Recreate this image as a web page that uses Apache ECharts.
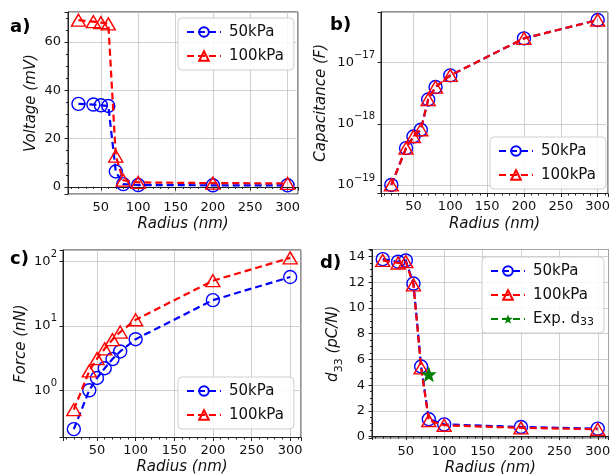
<!DOCTYPE html>
<html>
<head>
<meta charset="utf-8">
<script src="https://cdn.jsdelivr.net/npm/echarts@6/dist/echarts.min.js"></script>
<style>
html,body{margin:0;padding:0;background:#fff;}
#chart{width:614px;height:474px;}
</style>
</head>
<body>
<div id="chart"></div>
<script>
// ---- data ----
const radius = [20, 40, 50, 60, 70, 80, 100, 200, 300];
const voltage50 = [34.4, 34.1, 33.8, 33.5, 6.4, 1.2, 0.8, 0.7, 0.7];
const voltage100 = [69.0, 68.4, 68.0, 67.5, 12.8, 2.8, 1.9, 1.6, 1.5];
const capacitance50 = [1.0e-19, 4.0e-19, 6.2e-19, 8.0e-19, 2.5e-18, 4.0e-18, 6.2e-18, 2.5e-17, 5.0e-17];
const capacitance100 = [1.0e-19, 4.0e-19, 6.2e-19, 8.0e-19, 2.5e-18, 4.0e-18, 6.2e-18, 2.5e-17, 5.0e-17];
const force50 = [0.25, 1.0, 1.55, 2.2, 3.05, 4.0, 6.2, 25, 57];
const force100 = [0.5, 2.0, 3.1, 4.4, 6.1, 8.0, 12.4, 50, 113];
const d33_50 = [13.8, 13.6, 13.7, 11.9, 5.45, 1.35, 0.95, 0.75, 0.62];
const d33_100 = [13.7, 13.5, 13.6, 11.8, 5.35, 1.25, 0.88, 0.68, 0.57];
const expRadius = [80];
const expD33 = [4.85];
const seriesNames = ['50kPa', '100kPa', 'Exp. d33'];
const panelLabels = ['a)', 'b)', 'c)', 'd)'];
const yTitles = ['Voltage (mV)', 'Capacitance (F)', 'Force (nN)', 'd{sub|33} (pC/N)'];
const xTitle = 'Radius (nm)';
// capacitance is plotted in units of 1e-19 F (log axis precision); labels show true exponent
const CAP_EXP = -19;
const CAP_UNIT = Math.pow(10, CAP_EXP);

// ---- styling ----
const FONT = 'DejaVu Sans';
const BLUE = '#0000ff', RED = '#ff0000', GREEN = '#008000';
const AXIS_C = '#222';
const GRID_C = '#c4c4c4';
const MINUS = '\u2212';

const grids = [
  {left: 68, top: 12, width: 230, height: 182},
  {left: 381, top: 12, width: 227, height: 181.5},
  {left: 63, top: 250, width: 238, height: 187.5},
  {left: 372, top: 249.5, width: 236.5, height: 188.5}
].map(g => Object.assign({show: true, borderColor: AXIS_C, borderWidth: 1, containLabel: false, outerBoundsMode: 'none'}, g));

function supLabel(v, offset) {
  const l = Math.log10(v);
  const e = Math.round(l);
  if (Math.abs(l - e) > 1e-6) return '';
  const ex = e + offset;
  return '10{s|' + (ex < 0 ? MINUS + (-ex) : ex) + '}';
}

const xNameGap = [21, 21.5, 20.5, 20.5];
const xAxes = grids.map((g, i) => ({
  type: 'value', gridIndex: i, min: 6, max: 314, splitNumber: 6,
  name: xTitle, nameLocation: 'middle', nameGap: xNameGap[i],
  nameTextStyle: {fontFamily: FONT, fontSize: 15, fontStyle: 'italic', color: '#111', lineHeight: 18},
  axisLine: {show: true, lineStyle: {color: AXIS_C, width: 1}},
  axisTick: {show: true, length: 3.5, lineStyle: {color: AXIS_C, width: 1}},
  minorTick: {show: true, splitNumber: 5, length: 2, lineStyle: {color: AXIS_C, width: 1}},
  splitLine: {show: true, lineStyle: {color: GRID_C, width: 0.8}},
  axisLabel: {fontFamily: FONT, fontSize: 13, color: '#111', margin: 7,
    formatter: v => (Math.abs(v % 50) < 1e-9 ? String(v) : '')}
}));

const commonY = {
  nameLocation: 'middle',
  axisLine: {show: true, lineStyle: {color: AXIS_C, width: 1}},
  axisTick: {show: true, length: 3.5, lineStyle: {color: AXIS_C, width: 1}},
  splitLine: {show: true, lineStyle: {color: GRID_C, width: 0.8}}
};
const nameStyle = {fontFamily: FONT, fontSize: 15, fontStyle: 'italic', color: '#111', lineHeight: 18};
const supRich = {s: {fontFamily: FONT, fontSize: 10, lineHeight: 12, verticalAlign: 'top', color: '#111'}};

const yAxes = [
  Object.assign({}, commonY, {
    type: 'value', gridIndex: 0, min: -2.9, max: 72.4, splitNumber: 4,
    name: yTitles[0], nameGap: 26, nameTextStyle: nameStyle,
    minorTick: {show: true, splitNumber: 4, length: 2, lineStyle: {color: AXIS_C, width: 1}},
    axisLabel: {fontFamily: FONT, fontSize: 13, color: '#111', margin: 7,
      formatter: v => (Math.abs(v % 20) < 1e-9 ? String(v) : '')}
  }),
  Object.assign({}, commonY, {
    type: 'log', logBase: 10, gridIndex: 1,
    min: Math.pow(10, -19.14 - CAP_EXP), max: Math.pow(10, -16.17 - CAP_EXP),
    name: yTitles[1], nameGap: 51, nameTextStyle: nameStyle,
    axisLabel: {fontFamily: FONT, fontSize: 13, color: '#111', margin: 6, lineHeight: 24,
      rich: supRich, formatter: v => supLabel(v, CAP_EXP)}
  }),
  Object.assign({}, commonY, {
    type: 'log', logBase: 10, gridIndex: 2,
    min: Math.pow(10, -0.732), max: Math.pow(10, 2.175),
    name: yTitles[2], nameGap: 32.5, nameTextStyle: nameStyle,
    axisLabel: {fontFamily: FONT, fontSize: 13, color: '#111', margin: 6, lineHeight: 24,
      rich: supRich, formatter: v => supLabel(v, 0)}
  }),
  Object.assign({}, commonY, {
    type: 'value', gridIndex: 3, min: -0.11, max: 14.55, splitNumber: 7,
    name: yTitles[3], nameGap: 24,
    nameTextStyle: Object.assign({}, nameStyle, {lineHeight: 22,
      rich: {sub: {fontFamily: FONT, fontSize: 11, fontStyle: 'normal', lineHeight: 11, verticalAlign: 'bottom', color: '#111'}}}),
    minorTick: {show: true, splitNumber: 4, length: 2, lineStyle: {color: AXIS_C, width: 1}},
    axisLabel: {fontFamily: FONT, fontSize: 13, color: '#111', margin: 7,
      formatter: v => (Math.abs(v % 2) < 1e-9 ? String(v) : '')}
  })
];

function lineSeries(name, gi, xs, ys, kind) {
  const col = kind === 'b' ? BLUE : RED;
  return {
    type: 'line', name: name, xAxisIndex: gi, yAxisIndex: gi,
    data: xs.map((x, k) => [x, ys[k]]),
    color: col,
    symbol: kind === 'b' ? 'circle' : 'triangle',
    symbolSize: kind === 'b' ? 13 : [14, 12],
    lineStyle: {color: col, width: 2.2, type: [7, 4]},
    itemStyle: {color: 'rgba(255,255,255,0)', borderColor: col, borderWidth: 1.4},
    emphasis: {disabled: true},
    animation: false, z: kind === 'b' ? 2 : 3
  };
}

const capScaled50 = capacitance50.map(v => v / CAP_UNIT);
const capScaled100 = capacitance100.map(v => v / CAP_UNIT);

const series = [
  lineSeries(seriesNames[0], 0, radius, voltage50, 'b'),
  lineSeries(seriesNames[1], 0, radius, voltage100, 'r'),
  lineSeries(seriesNames[0], 1, radius, capScaled50, 'b'),
  lineSeries(seriesNames[1], 1, radius, capScaled100, 'r'),
  lineSeries(seriesNames[0], 2, radius, force50, 'b'),
  lineSeries(seriesNames[1], 2, radius, force100, 'r'),
  lineSeries(seriesNames[0], 3, radius, d33_50, 'b'),
  lineSeries(seriesNames[1], 3, radius, d33_100, 'r'),
  {
    type: 'line', name: seriesNames[2], xAxisIndex: 3, yAxisIndex: 3,
    data: expRadius.map((x, k) => [x, expD33[k]]),
    color: GREEN,
    symbol: 'path://M12,0 L14.94,8.09 L23.41,8.29 L16.76,13.51 L19.05,21.71 L12,17 L4.95,21.71 L7.24,13.51 L0.59,8.29 L9.06,8.09 Z',
    symbolSize: 16,
    lineStyle: {color: GREEN, width: 2.2, type: [7, 4]},
    itemStyle: {color: GREEN, borderColor: GREEN, borderWidth: 0},
    emphasis: {disabled: true}, z: 4
  }
];

function legend(left, top, names) {
  return {
    left: left, top: top, orient: 'vertical', data: names,
    backgroundColor: 'rgba(255,255,255,0.85)', borderColor: '#cfcfcf', borderWidth: 1, borderRadius: 4,
    padding: [5, 10, 5, 8], itemGap: 6, itemWidth: 34, itemHeight: 12,
    selectedMode: false,
    textStyle: {fontFamily: FONT, fontSize: 15, color: '#111', lineHeight: 18, padding: [0, 0, 0, 3],
      rich: {sub: {fontFamily: FONT, fontSize: 11, lineHeight: 11, verticalAlign: 'bottom', color: '#111'}}},
    formatter: n => (n === 'Exp. d33' ? 'Exp. d{sub|33}' : n)
  };
}

const labelPos = [[10, 27.5], [330, 25], [10, 259.5], [320, 263]];
const graphics = panelLabels.map((t, i) => ({
  type: 'text', x: labelPos[i][0], y: labelPos[i][1], z: 100,
  style: {text: t, font: 'bold 18px "DejaVu Sans"', fill: '#000', verticalAlign: 'middle', align: 'left'}
}));

const option = {
  animation: false,
  backgroundColor: '#fff',
  textStyle: {fontFamily: FONT},
  grid: grids,
  xAxis: xAxes,
  yAxis: yAxes,
  legend: [
    legend(178, 18, [seriesNames[0], seriesNames[1]]),
    legend(490, 137, [seriesNames[0], seriesNames[1]]),
    legend(178, 377, [seriesNames[0], seriesNames[1]]),
    legend(482, 257, seriesNames)
  ],
  graphic: graphics,
  series: series
};

const chart = echarts.init(document.getElementById('chart'), null, {renderer: 'canvas'});
chart.setOption(option);
</script>
</body>
</html>
